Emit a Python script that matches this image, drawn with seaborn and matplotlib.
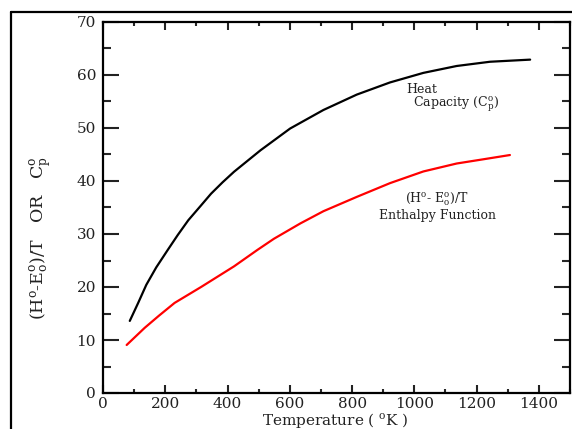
import matplotlib
matplotlib.use("Agg")
import matplotlib.pyplot as plt
from matplotlib.lines import Line2D
from matplotlib.ticker import MultipleLocator
import seaborn as sns
import pandas as pd

# Heat capacity Cp (black)
cp_T = [86, 113, 139, 171, 208, 240, 274, 315, 347, 384, 421, 506, 601, 708, 815, 922, 1029, 1136, 1243, 1372]
cp_val = [13.6, 17.0, 20.4, 23.7, 27.0, 29.8, 32.6, 35.4, 37.6, 39.75, 41.75, 45.8, 49.9, 53.4, 56.3, 58.6, 60.4, 61.7, 62.5, 62.9]

# Enthalpy function (H-E0)/T (red)
h_T = [76, 134, 180, 230, 315, 421, 496, 549, 634, 708, 815, 922, 1029, 1136, 1222, 1307]
h_val = [9.06, 12.3, 14.6, 17.0, 20.0, 23.9, 27.0, 29.1, 32.0, 34.3, 37.0, 39.6, 41.8, 43.3, 44.1, 44.9]

xticks = [0, 200, 400, 600, 800, 1000, 1200, 1400]
yticks = [0, 10, 20, 30, 40, 50, 60, 70]

sns.set_theme(style="white")
plt.rcParams["font.family"] = ["DejaVu Serif"]
plt.rcParams["mathtext.fontset"] = "dejavuserif"

fig = plt.figure(figsize=(5.72, 4.29), dpi=100)
W, H = 572, 429
ax = fig.add_axes([103 / W, 1 - 393 / H, (570 - 103) / W, (393 - 22) / H])

df_cp = pd.DataFrame({"T": cp_T, "v": cp_val})
df_h = pd.DataFrame({"T": h_T, "v": h_val})
sns.lineplot(data=df_cp, x="T", y="v", ax=ax, color="black", lw=1.6, sort=False)
sns.lineplot(data=df_h, x="T", y="v", ax=ax, color="#ff0000", lw=1.6, sort=False)

ax.set_xlim(0, 1500)
ax.set_ylim(0, 70)
ax.set_xticks(xticks)
ax.set_yticks(yticks)
ax.xaxis.set_minor_locator(MultipleLocator(100))
ax.yaxis.set_minor_locator(MultipleLocator(5))
ax.tick_params(axis="x", which="major", direction="in", length=6, width=1.5,
               top=True, bottom=True, labelsize=11, colors="#222222", pad=3)
ax.tick_params(axis="x", which="minor", direction="in", length=3, width=1.5,
               top=True, bottom=True)
ax.tick_params(axis="y", which="major", direction="in", length=11.5, width=1.5,
               left=True, right=True, labelsize=11, colors="#222222", pad=5)
ax.tick_params(axis="y", which="minor", direction="in", length=6, width=1.5,
               left=True, right=True)
for s in ax.spines.values():
    s.set_color("black")
    s.set_linewidth(1.6)

ax.set_xlabel(r"Temperature ( $^{\mathrm{o}}$K )", fontsize=11, color="#222222")
ax.xaxis.set_label_coords(0.497, -0.048)
ax.set_ylabel(r"(H$^{\mathrm{o}}$-E$^{\mathrm{o}}_{\mathrm{o}}$)/T   OR   C$^{\mathrm{o}}_{\mathrm{p}}$",
              fontsize=12.5, color="#222222")
ax.yaxis.set_label_coords(-0.105, 0.418)

def dx(px):
    return (px - 103) / (467 / 1500)

def dy(py):
    return (393 - py) / (371 / 70)

ax.text(dx(421.7), dy(89.5), "Heat", ha="center", va="center", fontsize=9, color="#222222")
ax.text(dx(456), dy(104.5), r"Capacity (C$^{\mathrm{o}}_{\mathrm{p}}$)", ha="center", va="center",
        fontsize=9, color="#222222")
ax.text(dx(436.7), dy(199), r"(H$^{\mathrm{o}}$- E$^{\mathrm{o}}_{\mathrm{o}}$)/T", ha="center", va="center",
        fontsize=9, color="#222222")
ax.text(dx(437.5), dy(216), "Enthalpy Function", ha="center", va="center",
        fontsize=9, color="#222222")

# outer frame (cropped)
fig.add_artist(Line2D([11 / W, 11 / W], [0, 1 - 12 / H], transform=fig.transFigure,
                      color="black", lw=1.6))
fig.add_artist(Line2D([11 / W, 1], [1 - 12 / H, 1 - 12 / H], transform=fig.transFigure,
                      color="black", lw=1.6))

fig.savefig("out.png", dpi=100)
